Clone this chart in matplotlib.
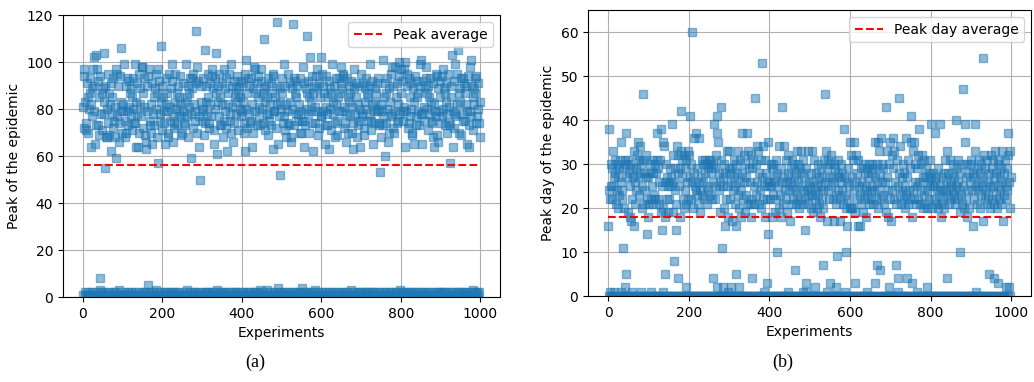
import numpy as np
import matplotlib
matplotlib.use("Agg")
import matplotlib.pyplot as plt

# peak number of infected in each of the 1000 experiments
peaks = [
    81, 1, 94, 97, 72, 2, 83, 71, 1, 74, 91, 1, 70, 85, 2, 80, 1, 87, 93, 1, 64, 82, 89, 2, 77,
    97, 1, 102, 79, 90, 1, 65, 2, 103, 73, 97, 1, 73, 92, 1, 85, 69, 3, 94, 8, 78, 1, 87, 71, 2,
    89, 1, 83, 78, 104, 55, 2, 90, 68, 1, 68, 80, 1, 95, 74, 2, 87, 69, 1, 82, 91, 62, 1, 78, 85,
    1, 93, 72, 2, 75, 81, 2, 68, 97, 59, 1, 95, 77, 1, 90, 66, 3, 74, 94, 1, 106, 79, 83, 1, 70,
    79, 1, 82, 99, 2, 75, 68, 1, 70, 90, 1, 79, 93, 2, 73, 92, 1, 81, 87, 1, 77, 89, 2, 71, 85,
    1, 93, 80, 1, 74, 74, 2, 99, 83, 64, 1, 78, 91, 1, 64, 70, 2, 95, 82, 1, 89, 77, 1, 98, 98,
    1, 87, 72, 2, 81, 93, 2, 69, 66, 1, 63, 90, 79, 1, 5, 94, 97, 1, 75, 73, 2, 82, 70, 1, 91,
    65, 1, 78, 85, 2, 73, 89, 1, 95, 80, 3, 87, 68, 57, 1, 97, 92, 1, 78, 75, 2, 83, 107, 71, 1,
    90, 1, 85, 74, 2, 79, 65, 1, 82, 93, 2, 79, 87, 1, 70, 68, 1, 95, 81, 2, 75, 89, 1, 99, 92,
    1, 77, 66, 2, 72, 74, 2, 83, 95, 1, 80, 87, 1, 73, 90, 2, 85, 78, 1, 94, 82, 1, 69, 77, 1,
    70, 1, 79, 91, 2, 74, 73, 1, 83, 99, 1, 77, 85, 3, 90, 68, 1, 87, 81, 2, 93, 78, 59, 1, 89,
    93, 1, 72, 95, 2, 82, 75, 2, 79, 91, 113, 1, 98, 70, 1, 92, 64, 2, 77, 50, 1, 90, 83, 1, 75,
    79, 1, 93, 80, 2, 69, 74, 1, 105, 83, 2, 90, 78, 1, 95, 85, 2, 72, 74, 1, 91, 82, 1, 77, 97,
    2, 94, 89, 1, 71, 65, 2, 93, 80, 1, 87, 104, 3, 61, 83, 90, 1, 77, 95, 2, 85, 73, 1, 73, 82,
    1, 91, 68, 2, 75, 97, 2, 89, 79, 1, 93, 72, 1, 62, 87, 2, 82, 95, 1, 78, 75, 1, 99, 70, 2,
    90, 81, 1, 66, 74, 2, 92, 85, 1, 78, 89, 2, 83, 94, 1, 71, 87, 1, 90, 80, 2, 85, 92, 1, 77,
    79, 1, 83, 91, 2, 74, 70, 62, 1, 95, 80, 101, 1, 87, 72, 2, 93, 90, 2, 78, 74, 1, 93, 75, 1,
    64, 82, 2, 70, 89, 1, 98, 97, 1, 79, 87, 2, 91, 73, 2, 85, 94, 1, 81, 77, 3, 73, 97, 1, 92,
    80, 1, 87, 74, 2, 110, 89, 83, 1, 71, 90, 1, 85, 78, 3, 93, 69, 1, 78, 75, 2, 82, 91, 1, 73,
    87, 1, 63, 95, 94, 2, 79, 79, 1, 85, 72, 1, 90, 82, 117, 1, 4, 65, 77, 2, 52, 89, 83, 1, 80,
    87, 2, 93, 74, 1, 99, 77, 2, 71, 90, 1, 82, 68, 1, 79, 95, 2, 74, 73, 1, 83, 91, 1, 68, 66,
    2, 80, 89, 116, 1, 93, 73, 2, 92, 87, 1, 78, 85, 1, 90, 75, 2, 78, 82, 1, 70, 93, 2, 70, 79,
    4, 75, 1, 98, 75, 2, 91, 64, 1, 73, 89, 80, 2, 87, 111, 1, 78, 92, 1, 85, 70, 102, 2, 79, 83,
    1, 94, 74, 62, 2, 87, 90, 1, 81, 74, 3, 89, 94, 1, 97, 79, 2, 69, 72, 1, 91, 85, 1, 77, 77,
    102, 2, 95, 79, 1, 90, 87, 1, 73, 65, 2, 94, 81, 1, 73, 78, 2, 85, 92, 63, 1, 80, 89, 1, 71,
    87, 2, 99, 83, 1, 78, 90, 1, 68, 74, 2, 93, 82, 1, 75, 69, 2, 85, 93, 1, 79, 87, 1, 91, 98,
    1, 79, 89, 2, 94, 95, 1, 81, 72, 2, 74, 66, 1, 78, 93, 2, 85, 70, 1, 90, 83, 1, 87, 77, 3,
    92, 81, 1, 70, 74, 63, 2, 89, 97, 1, 78, 91, 1, 85, 68, 2, 73, 82, 1, 90, 75, 2, 64, 80, 1,
    95, 78, 2, 77, 91, 1, 69, 72, 1, 89, 83, 2, 80, 93, 2, 87, 75, 1, 85, 90, 1, 78, 99, 2, 75,
    71, 1, 92, 82, 2, 65, 79, 1, 74, 89, 2, 83, 87, 1, 79, 91, 1, 93, 80, 2, 74, 73, 1, 53, 68,
    1, 82, 79, 2, 77, 73, 101, 1, 85, 91, 60, 2, 87, 74, 1, 93, 80, 1, 66, 70, 2, 89, 83, 1, 77,
    95, 2, 98, 78, 1, 72, 90, 1, 70, 79, 2, 98, 85, 1, 74, 91, 2, 75, 82, 1, 94, 100, 3, 78, 87,
    1, 97, 92, 2, 75, 79, 1, 81, 97, 1, 64, 100, 2, 79, 90, 2, 95, 72, 1, 74, 93, 1, 77, 85, 2,
    91, 80, 1, 69, 70, 2, 89, 65, 1, 83, 94, 1, 77, 73, 2, 85, 92, 1, 79, 87, 2, 73, 90, 1, 99,
    78, 101, 2, 78, 65, 1, 92, 81, 1, 75, 89, 2, 93, 98, 1, 80, 87, 2, 71, 90, 1, 85, 78, 1, 93,
    83, 2, 75, 74, 1, 68, 91, 64, 1, 82, 79, 2, 77, 95, 1, 94, 69, 2, 89, 66, 1, 79, 92, 2, 85,
    1, 74, 77, 2, 94, 97, 1, 80, 89, 2, 87, 73, 1, 91, 83, 2, 78, 70, 1, 95, 81, 1, 74, 57, 73,
    2, 85, 90, 1, 103, 79, 64, 2, 72, 92, 1, 99, 78, 1, 77, 95, 2, 82, 105, 1, 87, 70, 2, 89, 83,
    1, 69, 93, 2, 78, 75, 1, 93, 91, 2, 75, 87, 1, 82, 90, 2, 79, 65, 1, 94, 73, 64, 1, 79, 98,
    101, 2, 77, 90, 1, 85, 71, 3, 89, 82, 2, 87, 93, 1, 74, 94, 2, 77, 80, 1, 91, 74, 2, 68, 83,
]

# day on which the peak was reached, same experiments
peak_days = [
    16, 0, 24, 38, 22, 1, 25, 30, 0, 22, 29, 0, 33, 25, 1, 27, 0, 31, 28, 0, 21, 30, 24, 0, 27,
    20, 0, 29, 23, 31, 0, 35, 1, 26, 22, 24, 0, 11, 29, 0, 20, 31, 2, 30, 5, 37, 0, 27, 19, 0,
    31, 0, 28, 18, 30, 25, 0, 17, 29, 1, 22, 27, 0, 16, 33, 0, 26, 21, 0, 29, 24, 32, 0, 35, 27,
    0, 31, 23, 0, 34, 28, 1, 30, 20, 25, 0, 46, 31, 0, 21, 28, 0, 24, 32, 0, 27, 22, 14, 0, 18,
    27, 0, 21, 30, 0, 28, 22, 1, 25, 31, 0, 21, 28, 0, 23, 30, 0, 22, 28, 0, 31, 37, 0, 22, 29,
    0, 26, 21, 0, 31, 19, 0, 38, 15, 25, 1, 35, 20, 0, 34, 26, 5, 18, 30, 0, 22, 27, 0, 19, 25,
    0, 26, 22, 0, 29, 27, 0, 25, 39, 0, 19, 26, 32, 0, 8, 29, 24, 0, 15, 21, 0, 34, 28, 4, 32,
    25, 0, 29, 18, 0, 33, 42, 0, 31, 27, 0, 22, 20, 32, 0, 24, 29, 2, 21, 31, 0, 26, 22, 33, 0,
    32, 0, 27, 41, 0, 30, 22, 0, 60, 26, 0, 20, 28, 0, 36, 25, 0, 24, 37, 0, 29, 23, 0, 21, 26,
    0, 36, 24, 0, 19, 27, 0, 31, 23, 0, 30, 26, 0, 22, 31, 0, 28, 30, 0, 25, 21, 0, 29, 24, 0,
    31, 0, 30, 23, 0, 31, 28, 0, 22, 26, 4, 30, 39, 0, 22, 29, 0, 25, 32, 2, 41, 37, 35, 0, 24,
    28, 0, 19, 26, 0, 31, 43, 0, 11, 25, 27, 2, 30, 20, 0, 28, 16, 0, 22, 33, 0, 25, 18, 1, 29,
    33, 0, 28, 22, 2, 26, 17, 0, 29, 24, 0, 27, 31, 0, 21, 25, 5, 30, 16, 0, 28, 23, 0, 33, 20,
    2, 26, 31, 0, 24, 18, 0, 28, 37, 0, 22, 32, 0, 26, 19, 30, 0, 23, 27, 0, 37, 33, 0, 21, 29,
    0, 21, 26, 0, 32, 18, 4, 29, 22, 0, 31, 25, 0, 21, 45, 0, 30, 23, 0, 34, 26, 0, 33, 21, 0,
    28, 24, 0, 20, 31, 0, 53, 27, 0, 22, 34, 1, 25, 31, 0, 18, 28, 0, 26, 22, 3, 14, 35, 0, 25,
    26, 0, 22, 30, 0, 25, 18, 29, 0, 23, 30, 26, 0, 19, 27, 0, 31, 22, 0, 28, 10, 0, 25, 20, 0,
    34, 23, 0, 29, 18, 0, 43, 26, 0, 21, 34, 0, 27, 24, 0, 31, 22, 0, 26, 19, 1, 28, 32, 0, 24,
    17, 0, 26, 29, 0, 21, 31, 25, 0, 22, 27, 0, 30, 24, 6, 21, 28, 0, 33, 23, 0, 26, 30, 0, 20,
    29, 0, 22, 33, 25, 0, 28, 21, 1, 31, 24, 0, 27, 15, 22, 1, 3, 29, 24, 0, 33, 21, 26, 0, 23,
    25, 0, 20, 28, 0, 33, 23, 0, 26, 19, 0, 31, 24, 2, 22, 28, 0, 20, 25, 0, 30, 23, 0, 27, 21,
    0, 18, 25, 29, 0, 22, 27, 7, 24, 20, 0, 31, 46, 0, 26, 33, 0, 17, 29, 1, 24, 31, 0, 22, 27,
    3, 30, 0, 32, 25, 0, 27, 22, 0, 30, 17, 26, 0, 29, 23, 2, 21, 9, 0, 28, 24, 31, 0, 27, 17,
    0, 22, 26, 30, 0, 24, 28, 0, 21, 38, 0, 27, 23, 1, 20, 10, 0, 26, 16, 0, 29, 22, 0, 25, 20,
    35, 0, 20, 32, 0, 27, 20, 0, 31, 24, 0, 35, 19, 3, 32, 26, 0, 22, 28, 16, 0, 31, 25, 0, 16,
    23, 0, 29, 21, 0, 26, 19, 0, 30, 24, 0, 22, 28, 0, 25, 18, 1, 29, 23, 0, 27, 21, 0, 30, 24,
    0, 28, 22, 0, 30, 25, 0, 21, 29, 0, 24, 27, 3, 35, 22, 0, 26, 30, 7, 20, 35, 0, 24, 33, 6,
    28, 22, 0, 36, 26, 30, 0, 23, 29, 0, 21, 26, 0, 43, 19, 0, 27, 33, 0, 24, 18, 2, 30, 22, 0,
    35, 17, 0, 32, 24, 0, 36, 29, 0, 22, 33, 0, 26, 21, 0, 7, 31, 0, 4, 25, 1, 45, 28, 0, 23,
    34, 0, 21, 27, 0, 24, 30, 0, 22, 28, 0, 25, 20, 0, 36, 23, 4, 27, 21, 0, 31, 24, 0, 22, 29,
    0, 35, 41, 3, 18, 33, 24, 0, 35, 22, 26, 0, 30, 21, 0, 25, 29, 1, 32, 22, 0, 38, 26, 0, 21,
    30, 0, 24, 32, 0, 27, 20, 0, 31, 23, 0, 27, 21, 0, 29, 24, 2, 20, 26, 0, 28, 22, 0, 25, 31,
    0, 27, 39, 0, 20, 25, 0, 28, 22, 0, 37, 26, 0, 21, 27, 0, 24, 20, 0, 29, 23, 0, 39, 25, 0,
    18, 21, 0, 27, 24, 0, 22, 28, 0, 20, 31, 0, 24, 26, 0, 4, 33, 0, 23, 28, 0, 21, 31, 0, 25,
    26, 22, 0, 28, 24, 0, 30, 23, 0, 27, 21, 0, 40, 25, 0, 29, 22, 0, 26, 31, 0, 24, 19, 10, 28,
    23, 0, 30, 21, 0, 25, 47, 20, 0, 39, 35, 0, 27, 22, 0, 30, 18, 0, 24, 28, 0, 20, 26, 0, 31,
    0, 30, 24, 0, 16, 28, 0, 22, 27, 0, 39, 33, 1, 25, 21, 0, 29, 24, 0, 26, 31, 0, 20, 28, 23,
    0, 30, 25, 0, 54, 27, 17, 0, 32, 22, 0, 29, 24, 0, 21, 31, 0, 26, 23, 5, 28, 20, 0, 25, 32,
    0, 22, 29, 0, 31, 25, 4, 21, 27, 0, 33, 23, 0, 28, 20, 0, 30, 25, 3, 22, 31, 27, 0, 24, 29,
    21, 0, 33, 26, 0, 17, 28, 0, 23, 31, 0, 25, 22, 2, 29, 24, 0, 32, 37, 2, 26, 20, 0, 33, 27,
]

captions = ["(a)", "(b)"]


def plot_panel(ax, values, ylabel, avg_label, ylim, yticks):
    x = np.arange(len(values))
    avg = np.mean(values)
    ax.plot(x, values, "s", alpha=0.5)
    ax.plot([x[0], x[-1]], [avg, avg], "r--", label=avg_label)
    ax.set_xlabel("Experiments")
    ax.set_ylabel(ylabel)
    ax.set_ylim(ylim)
    ax.set_yticks(yticks)
    ax.set_xticks([0, 200, 400, 600, 800, 1000])
    ax.grid(True)
    ax.legend(loc="upper right")


fig = plt.figure(figsize=(10.34, 3.82), dpi=100)
ax1 = fig.add_axes([0.0609, 0.2225, 0.4226, 0.7382])
ax2 = fig.add_axes([0.5687, 0.2251, 0.4284, 0.7487])

plot_panel(ax1, peaks, "Peak of the epidemic", "Peak average", (0, 120), range(0, 121, 20))
plot_panel(ax2, peak_days, "Peak day of the epidemic", "Peak day average", (0, 65), range(0, 61, 10))

fig.text(0.2466, 0.03, captions[0], ha="center", va="bottom", fontsize=13, family="Liberation Serif")
fig.text(0.7573, 0.03, captions[1], ha="center", va="bottom", fontsize=13, family="Liberation Serif")

fig.savefig("out.png", dpi=100)
